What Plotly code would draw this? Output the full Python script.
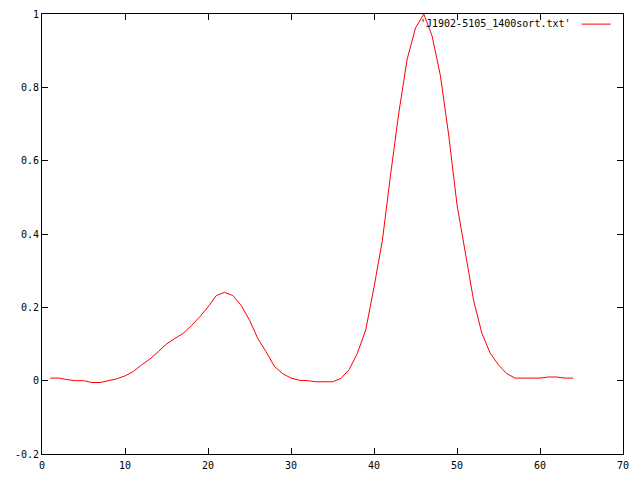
import plotly.graph_objects as go

bins = list(range(1, 65))
intensity = [
    0.007, 0.007, 0.003, 0.0, 0.0, -0.005, -0.005, -0.001, 0.005, 0.013,
    0.025, 0.043, 0.059, 0.079, 0.100, 0.115, 0.129, 0.150, 0.174, 0.201,
    0.232, 0.241, 0.232, 0.205, 0.165, 0.115, 0.079, 0.039, 0.019, 0.007,
    0.001, 0.0, -0.003, -0.003, -0.003, 0.006, 0.030, 0.075, 0.138, 0.255,
    0.381, 0.562, 0.732, 0.877, 0.962, 1.0, 0.94, 0.832, 0.67, 0.48,
    0.346, 0.219, 0.129, 0.075, 0.043, 0.019, 0.007, 0.007, 0.009, 0.007,
    0.010, 0.010, 0.007, 0.007,
]
legend_label = "'J1902-5105_1400sort.txt'"
x_ticks = [0, 10, 20, 30, 40, 50, 60, 70]
y_ticks = [-0.2, 0, 0.2, 0.4, 0.6, 0.8, 1]

fig = go.Figure()
fig.add_trace(go.Scatter(x=bins, y=intensity, mode="lines",
                         line=dict(color="#ff0000", width=1), showlegend=False))

font = dict(family="DejaVu Sans Mono", size=10, color="black")
axis_common = dict(showgrid=False, zeroline=False, showline=True, linecolor="black",
                   linewidth=1, mirror="ticks", ticks="inside", ticklen=6,
                   tickcolor="black", tickfont=font, automargin=False)
fig.update_xaxes(range=[0, 70], tickvals=x_ticks, ticktext=[str(v) for v in x_ticks],
                 ticklabelstandoff=2, **axis_common)
fig.update_yaxes(range=[-0.2, 1], tickvals=y_ticks,
                 ticktext=["-0.2", "0", "0.2", "0.4", "0.6", "0.8", "1"], **axis_common)

fig.add_annotation(xref="paper", yref="paper", x=0.914, y=0.977, text=legend_label,
                   showarrow=False, xanchor="right", yanchor="middle", font=font)
fig.add_shape(type="line", xref="paper", yref="paper", x0=0.929, x1=0.979,
              y0=0.977, y1=0.977, line=dict(color="#ff0000", width=1))

fig.update_layout(width=624, height=464, paper_bgcolor="white", plot_bgcolor="white",
                  margin=dict(l=34, r=9, t=6, b=18), showlegend=False)
fig.write_html("out.html")
